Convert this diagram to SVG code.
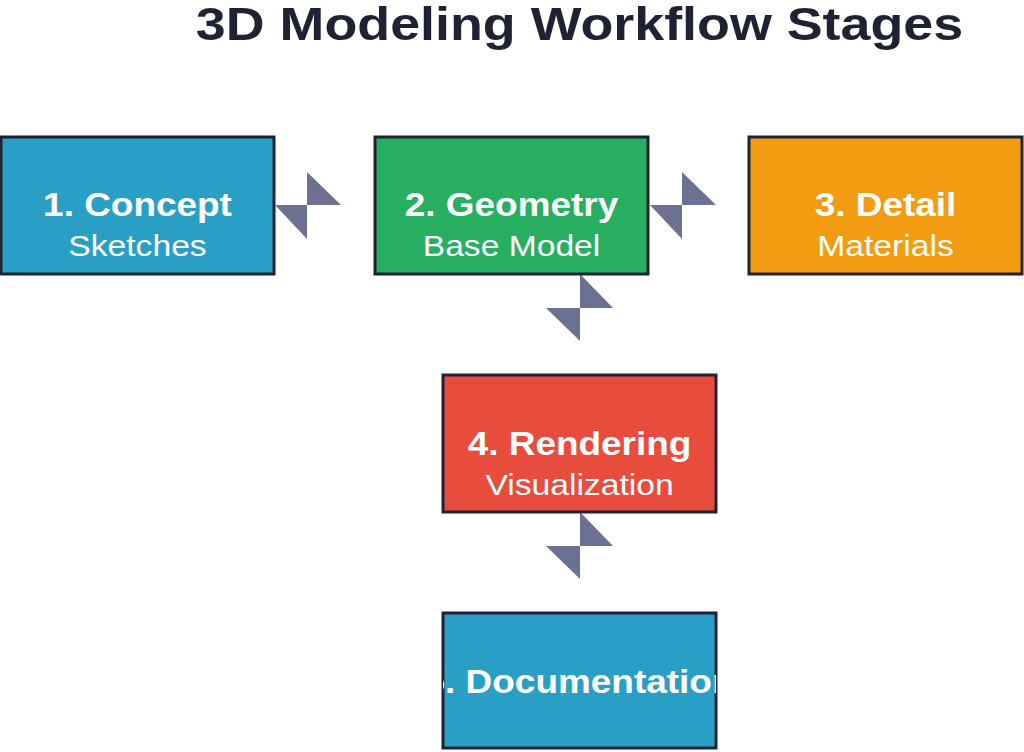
<svg xmlns="http://www.w3.org/2000/svg" width="1024" height="752" viewBox="0 0 1024 752">
<style>
.box{stroke:#1e2233;stroke-width:3}
.t{font-family:"Liberation Sans",Arial,sans-serif;font-weight:bold;font-size:33px;fill:#ffffff;text-anchor:middle}
.s{font-family:"Liberation Sans",Arial,sans-serif;font-size:29px;fill:#ffffff;text-anchor:middle}
.h{font-family:"Liberation Sans",Arial,sans-serif;font-weight:bold;font-size:46px;fill:#1e2233;text-anchor:middle}
.c{fill:#6b7190}
</style>
<defs>
<clipPath id="clip5"><rect x="443" y="613" width="273" height="137"/></clipPath>
</defs>
<rect width="1024" height="752" fill="#ffffff"/>
<text class="h" transform="translate(579.5,40) scale(1.17,1)">3D Modeling Workflow Stages</text>
<g id="connectors">
<polygon class="c" points="307,172 307,205 341,205"/>
<polygon class="c" points="275,205 307,205 307,239"/>
<polygon class="c" points="682,172 682,205 716,205"/>
<polygon class="c" points="650,205 682,205 682,239"/>
<polygon class="c" points="580,274 580,308 613,308"/>
<polygon class="c" points="546,308 580,308 580,341"/>
<polygon class="c" points="580,512 580,546 613,546"/>
<polygon class="c" points="546,546 580,546 580,579"/>
</g>
<g id="node1">
<rect class="box" x="1" y="137" width="273" height="137" fill="#2a9fc6"/>
<text class="t" transform="translate(137.5,216) scale(1.12,1)">1. Concept</text>
<text class="s" transform="translate(137.5,256) scale(1.16,1)">Sketches</text>
</g>
<g id="node2">
<rect class="box" x="375" y="137" width="273" height="137" fill="#27ae60"/>
<text class="t" transform="translate(511.5,216) scale(1.12,1)">2. Geometry</text>
<text class="s" transform="translate(511.5,256) scale(1.16,1)">Base Model</text>
</g>
<g id="node3">
<rect class="box" x="749" y="137" width="273" height="137" fill="#f39c12"/>
<text class="t" transform="translate(885.5,216) scale(1.12,1)">3. Detail</text>
<text class="s" transform="translate(885.5,256) scale(1.16,1)">Materials</text>
</g>
<g id="node4">
<rect class="box" x="443" y="375" width="273" height="137" fill="#e74c3c"/>
<text class="t" transform="translate(579.5,455) scale(1.12,1)">4. Rendering</text>
<text class="s" transform="translate(579.5,495) scale(1.16,1)">Visualization</text>
</g>
<g id="node5">
<rect class="box" x="443" y="613" width="273" height="135" fill="#2a9fc6"/>
<g clip-path="url(#clip5)">
<text class="t" transform="translate(579.5,693) scale(1.12,1)">5. Documentation</text>
</g>
</g>
</svg>
